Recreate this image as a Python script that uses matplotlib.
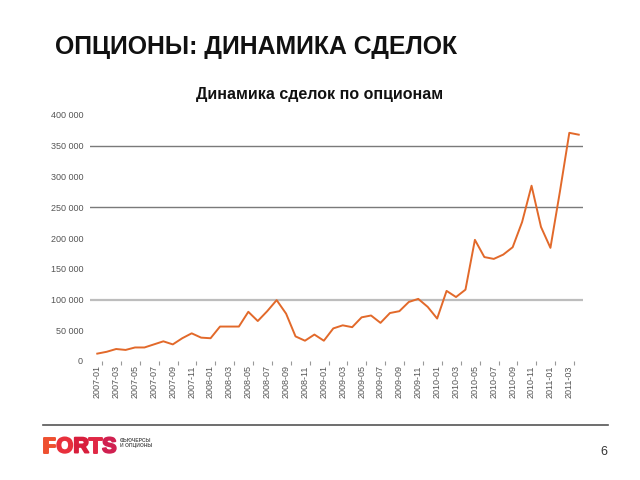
import matplotlib
matplotlib.use("Agg")
import matplotlib.pyplot as plt
import matplotlib.patheffects as pe

# ---- data ----
months = [f"{y}-{m:02d}" for y in range(2007, 2012) for m in range(1, 13)][:52]
values = [12000, 15000, 19500, 18000, 22000, 22000, 27000, 32000, 27000, 37000,
          45000, 38000, 37000, 56000, 56000, 56000, 80000, 65000, 81000, 99000,
          77000, 40000, 33000, 43000, 33000, 53000, 58000, 55000, 71000, 74000,
          62000, 78000, 81000, 96000, 101000, 88000, 69000, 114000, 104000, 116000,
          197000, 169000, 166000, 173000, 185000, 226000, 285000, 218000, 184000, 275000,
          371000, 368000]
ytick_vals = [0, 50000, 100000, 150000, 200000, 250000, 300000, 350000, 400000]
ytick_labels = ["0", "50 000", "100 000", "150 000", "200 000", "250 000",
                "300 000", "350 000", "400 000"]
grid_dark = [250000, 350000]
grid_light = [100000]

page_title = "ОПЦИОНЫ: ДИНАМИКА СДЕЛОК"
chart_title = "Динамика сделок по опционам"

plt.rcParams['font.family'] = ['Liberation Sans', 'DejaVu Sans']

W, H = 640, 480
fig = plt.figure(figsize=(6.4, 4.8), dpi=100)
fig.patch.set_facecolor("white")

# axes placement (pixels): left 90, right 583, top 115, bottom 361
ax = fig.add_axes([90 / W, 1 - 361 / H, (583 - 90) / W, (361 - 115) / H])
x = list(range(len(values)))
for g in grid_dark:
    ax.axhline(g, color="#7a7a7a", lw=1.0, zorder=1)
for g in grid_light:
    ax.axhline(g, color="#bdbdbd", lw=1.6, zorder=1)
ax.plot(x, values, color="#E2692A", lw=1.4, zorder=3)

ax.set_xlim(-0.77, 51.45)
ax.set_ylim(0, 400000)
for s in ax.spines.values():
    s.set_visible(False)

ax.set_yticks(ytick_vals)
ax.set_yticklabels(ytick_labels, fontsize=6.5, color="#555555")
ax.tick_params(axis="y", length=0, pad=5)

major = list(range(0, len(months), 2))
ax.set_xticks(major)
ax.set_xticklabels([months[i] for i in major], rotation=90, fontsize=6.5,
                   color="#555555")
ax.set_xticks([i + 0.5 for i in major], minor=True)
ax.tick_params(axis="x", which="major", length=0, pad=3)
ax.tick_params(axis="x", which="minor", length=3, color="#999999", width=0.8)

# titles
fig.text(55 / W, 1 - 47 / H, page_title, fontsize=17.8, fontweight="bold",
         ha="left", va="center", color="#111111")
fig.text(320 / W, 1 - 95 / H, chart_title, fontsize=11.5, fontweight="bold",
         ha="center", va="center", color="#111111")

# footer line
fig.add_artist(plt.Line2D([43 / W, 608 / W], [1 - 425 / H, 1 - 425 / H],
                          color="#555555", lw=1.2, transform=fig.transFigure))

# FORTS logo
letters = ["F", "O", "R", "T", "S"]
adv = [13.4, 17.0, 15.6, 13.2, 14.4]
colors = ["#EE5030", "#E8303C", "#D81E3C", "#E02845", "#D02050"]
lx = 43.0
for ch, w, c in zip(letters, adv, colors):
    fig.text(lx / W, 1 - 447 / H, ch, fontsize=15.5, fontweight="bold",
             color=c, ha="left", va="center",
             path_effects=[pe.Stroke(linewidth=1.4, foreground=c), pe.Normal()])
    lx += w
fig.text(120 / W, 1 - 440.5 / H, "ФЬЮЧЕРСЫ", fontsize=3.6, fontweight="bold",
         color="#555555", ha="left", va="center")
fig.text(120 / W, 1 - 446 / H, "И ОПЦИОНЫ", fontsize=3.6, fontweight="bold",
         color="#555555", ha="left", va="center")

fig.text(604 / W, 1 - 452 / H, "6", fontsize=9, color="#333333",
         ha="center", va="center")

fig.savefig("out.png", dpi=100)
